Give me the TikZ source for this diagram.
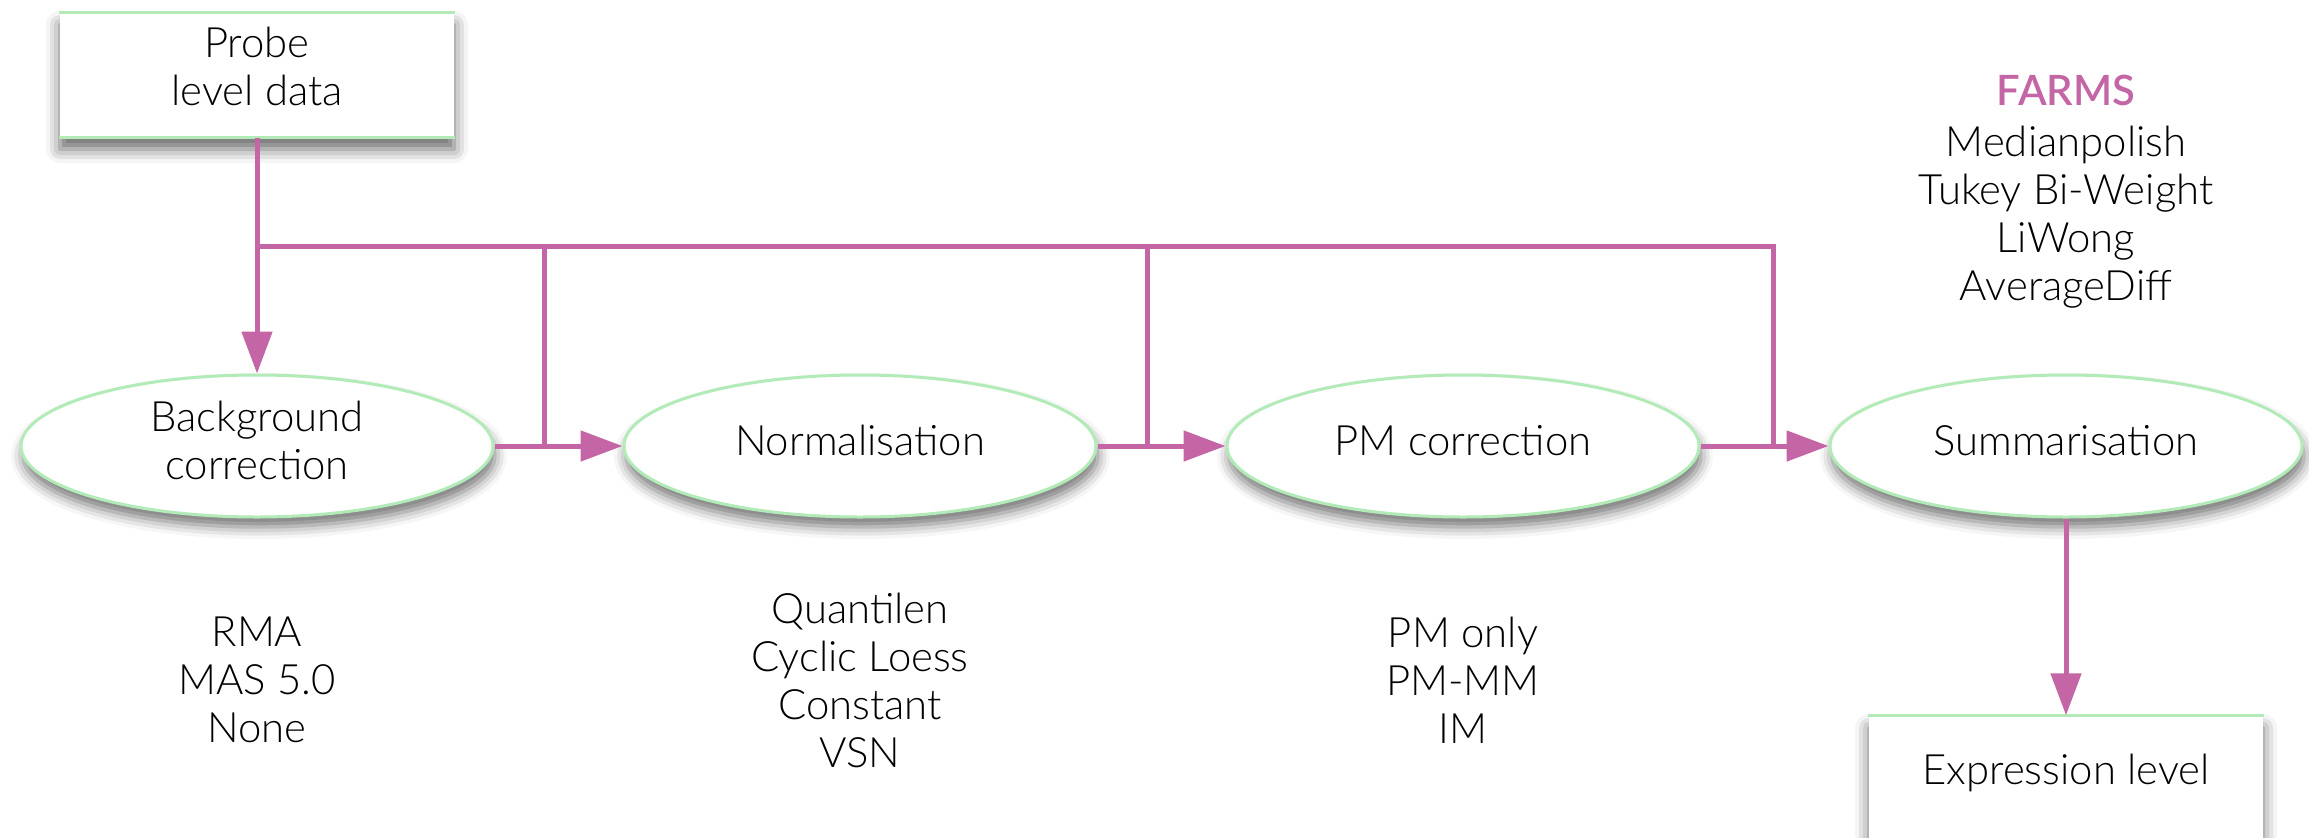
\documentclass[tikz,border=0pt]{standalone}
\usepackage{fontspec}
\setmainfont{Lato Light}[BoldFont={Lato Semibold}]
\usepackage{tikz}
\usetikzlibrary{shapes.geometric,arrows.meta,positioning,calc,shadows.blur}
\definecolor{flow}{RGB}{196,102,166}
\definecolor{rim}{RGB}{178,235,184}
\tikzstyle{stage} = [draw=rim, line width=0.03cm, ellipse, fill=white,
    minimum width=4.72cm, minimum height=1.42cm, inner sep=0pt, align=center,
    text depth=0.12cm, font=\fontsize{11.9}{13.66}\selectfont,
    blur shadow={shadow xshift=0.02cm, shadow yshift=-0.1cm, shadow blur radius=0.12cm, shadow opacity=55}]
\tikzstyle{block} = [rectangle, fill=white, minimum width=3.94cm, minimum height=1.24cm,
    inner sep=0pt, align=center, text depth=0.18cm, font=\fontsize{11.9}{13.66}\selectfont,
    blur shadow={shadow xshift=0cm, shadow yshift=-0.12cm, shadow blur radius=0.14cm, shadow opacity=60}]
\tikzstyle{method} = [align=center, inner sep=0pt, font=\fontsize{11.9}{13.66}\selectfont]
\tikzstyle{coord} = [coordinate]
\tikzstyle{connector} = [-{Triangle[length=0.42cm,width=0.3cm]}, flow, line width=0.05cm]
\tikzstyle{line} = [flow, line width=0.05cm]
\tikzstyle{rimline} = [rim, line width=0.03cm]

\begin{document}
\begin{tikzpicture}[node distance=6.03cm]
    \useasboundingbox (0,0) rectangle (23.09,-8.37);
    \clip (0,0) rectangle (23.09,-8.37);

    \node (bg) [stage] at (2.57,-4.46) {Background\\correction};
    \node (norm) [stage, right of=bg] {Normalisation};
    \node (pm) [stage, right of=norm] {PM correction};
    \node (summ) [stage, right of=pm] {Summarisation};

    \node (probe) [block, above of=bg, node distance=3.71cm] {Probe\\level data};
    \node (expr) [block, below of=summ, node distance=3.32cm] {Expression level};
    \draw [rimline] (probe.north west) -- (probe.north east) (probe.south west) -- (probe.south east);
    \draw [rimline] (expr.north west) -- (expr.north east);

    % methods for each step
    \node (bgmeth) [method, below of=bg, node distance=2.34cm] {RMA\\MAS 5.0\\None};
    \node (normmeth) [method, below of=norm, node distance=2.34cm] {Quantilen\\Cyclic Loess\\Constant\\VSN};
    \node (pmmeth) [method, below of=pm, node distance=2.34cm] {PM only\\PM-MM\\IM};
    \node (summmeth) [method, above of=summ, node distance=2.54cm] {{\bfseries\color{flow}FARMS}\\[0.03cm]Medianpolish\\Tukey Bi-Weight\\LiWong\\AverageDiff};

    % main flow
    \draw [connector] (probe) -- (bg);
    \draw [connector] (bg) -- (norm);
    \draw [connector] (norm) -- (pm);
    \draw [connector] (pm) -- (summ);
    \draw [connector] (summ) -- (expr);

    % bypass lines
    \node (bus) [coord, below of=probe, node distance=1.71cm] {};
    \node (tap1) [coord, right=0.5cm of bg.east] {};
    \node (tap2) [coord, right=0.5cm of norm.east] {};
    \node (tap3) [coord, right=0.73cm of pm.east] {};
    \draw [line] (bus) -| (tap3);
    \draw [line] (bus-|tap1) -- (tap1);
    \draw [line] (bus-|tap2) -- (tap2);
\end{tikzpicture}
\end{document}
